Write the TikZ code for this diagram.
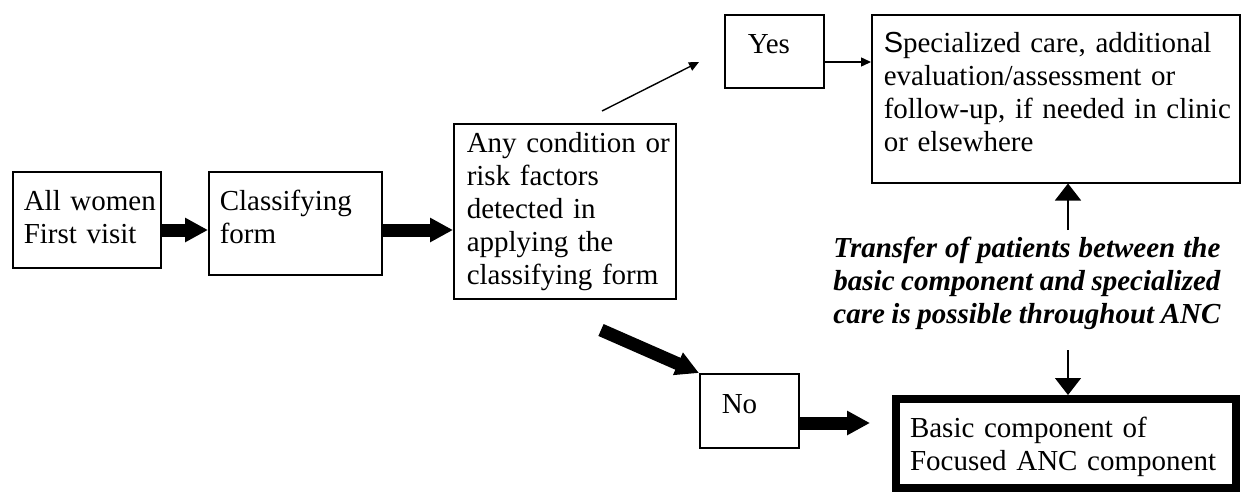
\documentclass[tikz,border=0pt]{standalone}
\usepackage{fontspec}
\setmainfont{Liberation Serif}
\newfontfamily\sansletter{Liberation Sans}
\usetikzlibrary{arrows.meta}
\tikzset{
    box/.style={draw, line width=0.75pt, anchor=north west, align=left, inner ysep=0pt,
        font=\fontsize{14.5}{16.5}\selectfont},
    note/.style={anchor=base west, align=justify, inner sep=0pt,
        font=\fontsize{14.5}{16.5}\selectfont\bfseries\itshape},
    fat arrow/.style={line width=6.5pt, -{Triangle[length=11.5pt,width=11.5pt]}},
    thin arrow/.style={line width=0.7pt, -{Triangle[length=5pt,width=4.5pt]}},
    up arrow/.style={line width=0.75pt, -{Triangle[length=8.5pt,width=13pt]}},
}

\begin{document}
\begin{tikzpicture}[x=0.5pt,y=-0.5pt]
	\useasboundingbox (0,0) rectangle (1241,493);
	% boxes, placed by their top left corners (pixel grid)
	\node[box, text width=63pt, inner xsep=5.5pt, text height=19.5pt, text depth=28.5pt] (women) at (12,171) {\mbox{All women}\\\mbox{First visit}};
	\node[box, text width=75.5pt, inner xsep=5.5pt, text height=19.5pt, text depth=32pt] (classify) at (208,171) {Classifying\\form};
	\node[box, text width=98pt, inner xsep=6.5pt, text height=14.5pt, text depth=73pt] (cond) at (453,123) {\mbox{Any condition or}\\\mbox{risk factors}\\\mbox{detected in}\\\mbox{applying the}\\\mbox{classifying form}};
	\node[box, text width=26.5pt, inner xsep=11.5pt, text height=19.5pt, text depth=17pt] (yes) at (724,14) {Yes};
	\node[box, text width=172pt, inner xsep=6pt, text height=19pt, text depth=65pt] (spec) at (871,14) {\mbox{{\sansletter S}pecialized care, additional}\\\mbox{evaluation/assessment or}\\\mbox{follow-up, if needed in clinic}\\\mbox{or elsewhere}};
	\node[box, text width=27.5pt, inner xsep=11pt, text height=20pt, text depth=17pt] (no) at (699,373) {No};
	\node[box, line width=4pt, text width=156pt, inner xsep=7pt, text height=19pt, text depth=25.5pt] (basic) at (892,395) {\mbox{Basic component of}\\\mbox{Focused ANC component}};
	\node[note, text width=193.5pt] (transfer) at (833,257) {\parfillskip=0pt Transfer of patients between the\linebreak basic component and specialized\linebreak care is possible throughout ANC};

	% free ends of the connectors
	\coordinate (condYes) at (602,111);
	\coordinate (yesIn) at (699,62);
	\coordinate (condNo) at (601,330);
	\coordinate (basicIn) at (870,423);
	\coordinate (transferUp) at (1068,230);
	\coordinate (transferDown) at (1068,350);

	\draw[fat arrow] (women.east |- 0,230) -- (classify.west |- 0,230);
	\draw[fat arrow] (classify.east |- 0,230) -- (cond.west |- 0,230);
	\draw[thin arrow] (condYes) -- (yesIn);
	\draw[thin arrow] (yes.east |- 0,62) -- (spec.west |- 0,62);
	\draw[fat arrow] (condNo) -- (no.north west);
	\draw[fat arrow] (no.east |- 0,423) -- (basicIn);
	\draw[up arrow] (transferUp) -- (spec.south -| transferUp);
	\draw[up arrow] (transferDown) -- (basic.north -| transferDown);
\end{tikzpicture}
\end{document}
